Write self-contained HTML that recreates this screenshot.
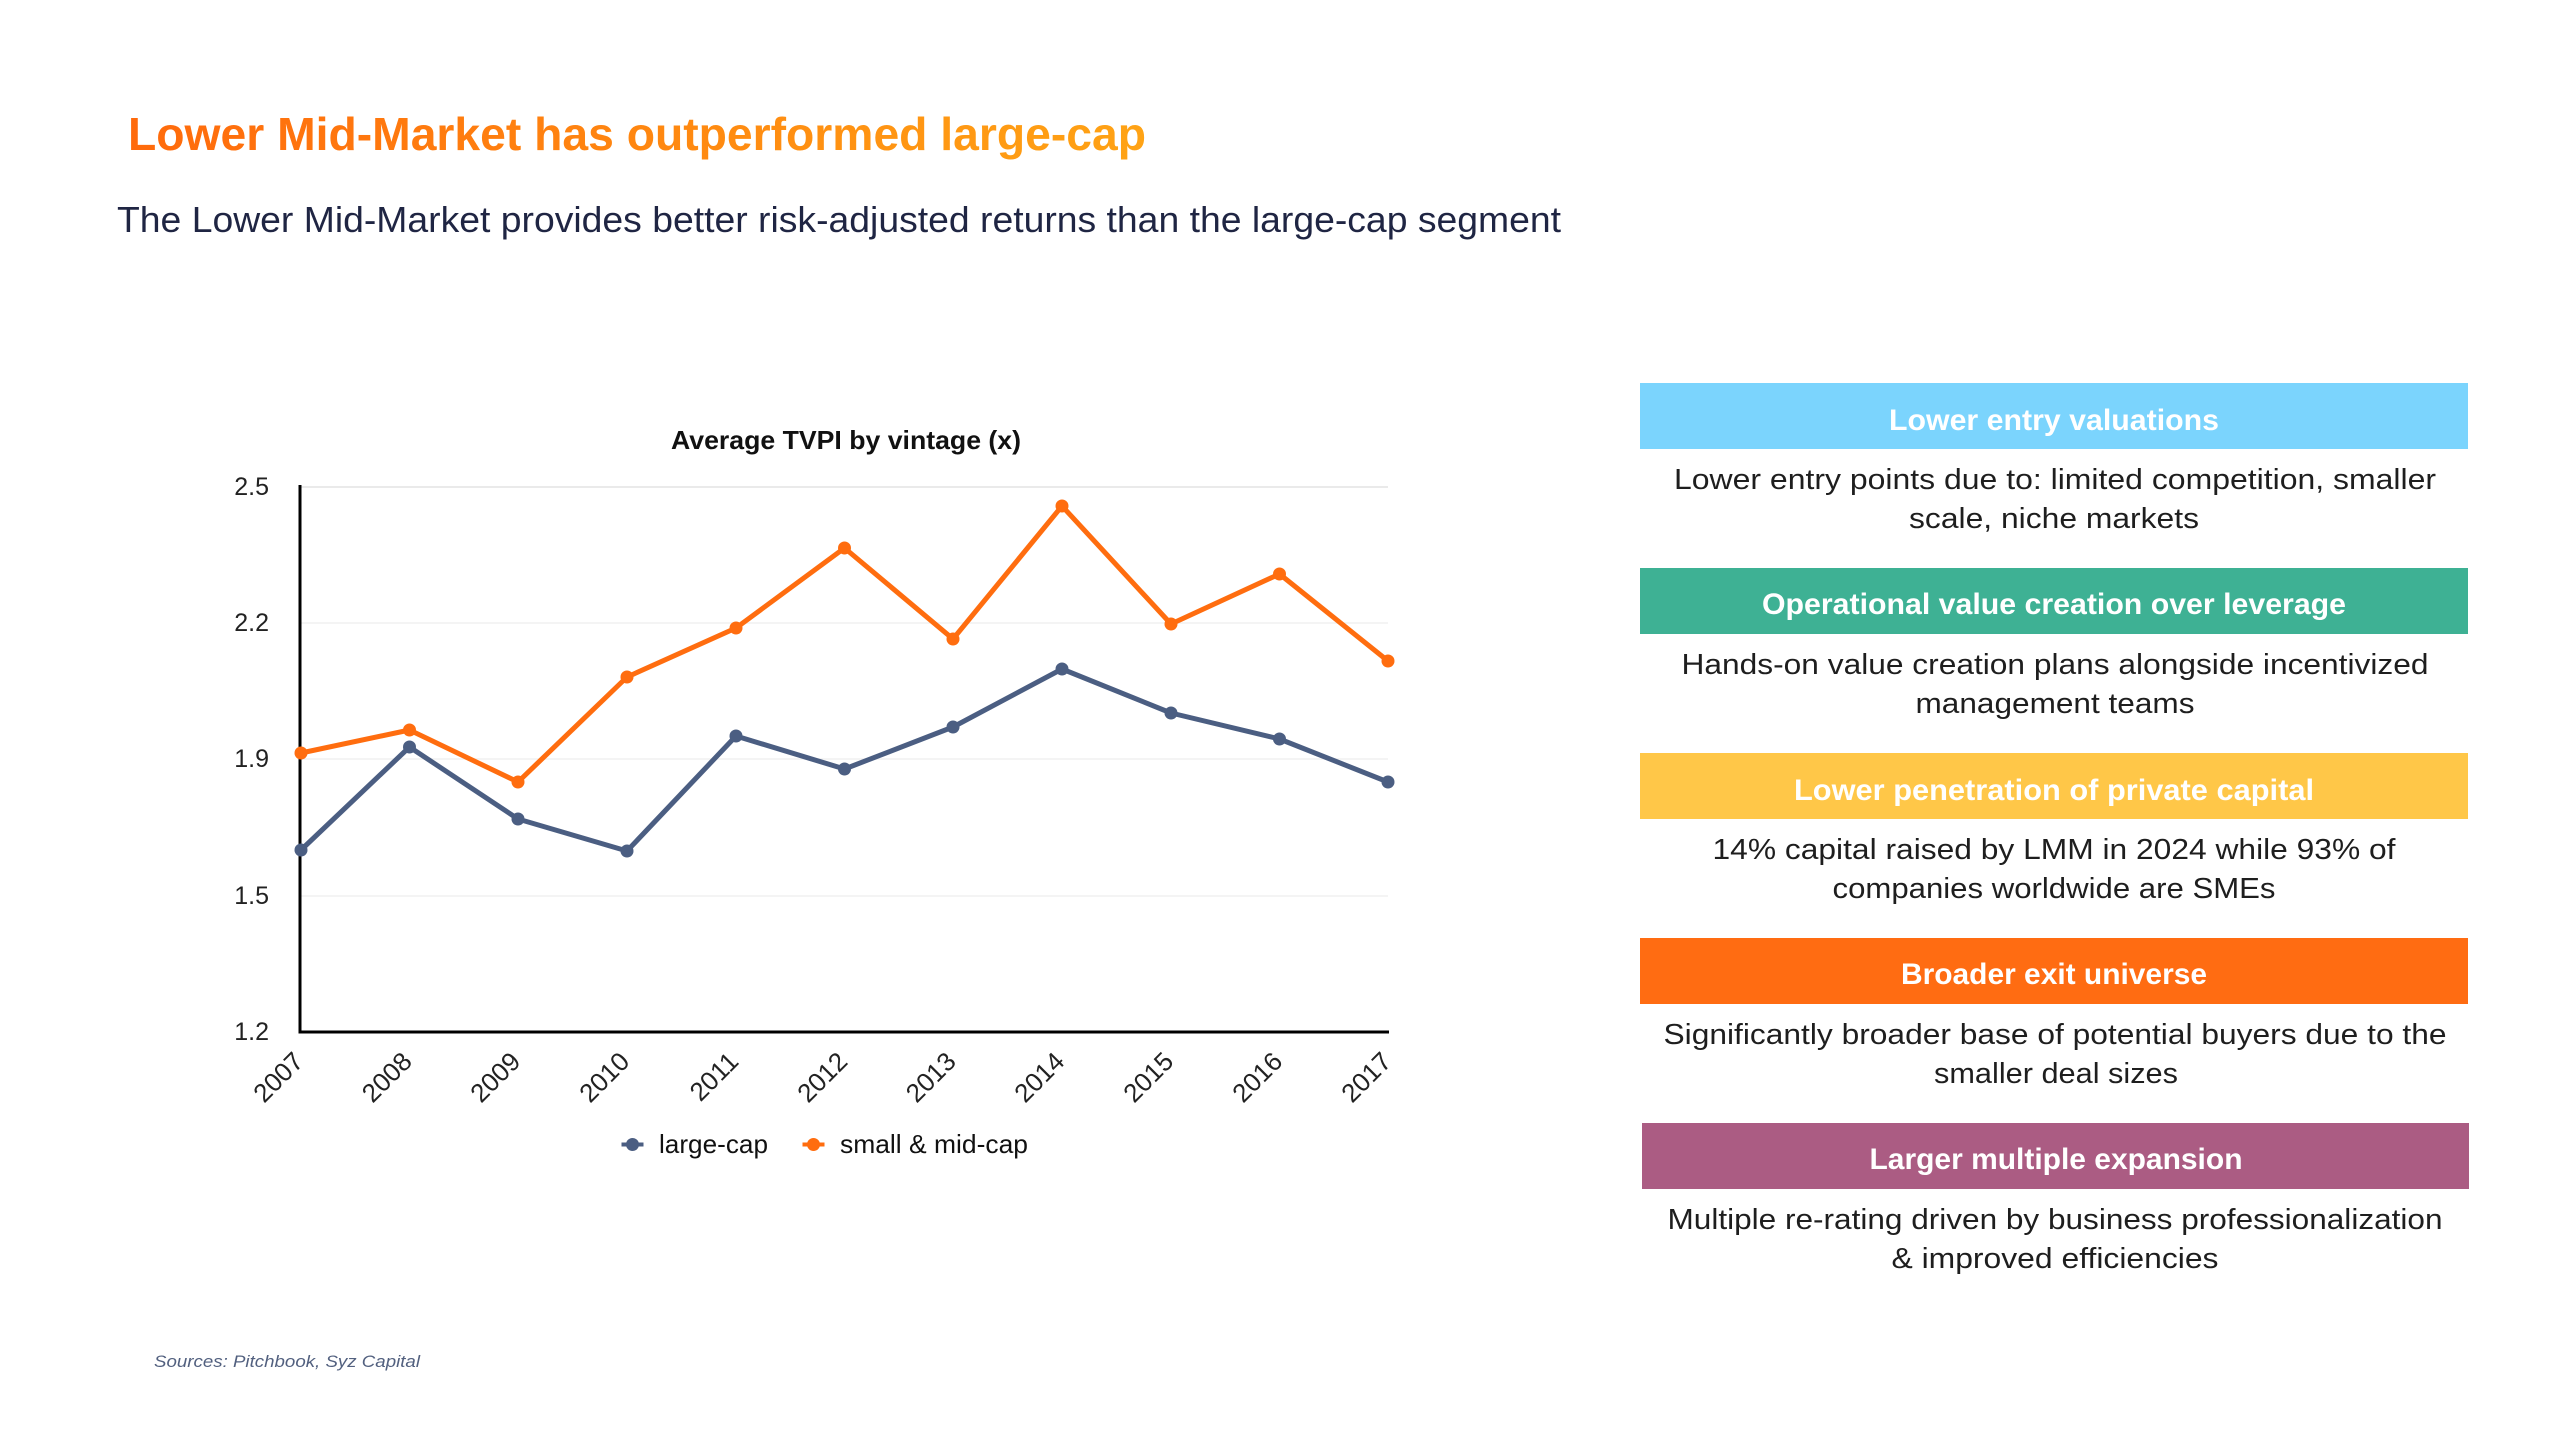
<!DOCTYPE html>
<html>
<head>
<meta charset="utf-8">
<style>
  html, body { margin: 0; padding: 0; background: #ffffff; }
  svg { display: block; }
  text { font-family: "Liberation Sans", Arial, sans-serif; }
</style>
</head>
<body>
<svg width="2560" height="1440" viewBox="0 0 2560 1440" xmlns="http://www.w3.org/2000/svg">
  <defs>
    <linearGradient id="tg" x1="0" y1="0" x2="1" y2="0">
      <stop offset="0" stop-color="#ff6a0c"/>
      <stop offset="1" stop-color="#ffa315"/>
    </linearGradient>
  </defs>
  <rect x="0" y="0" width="2560" height="1440" fill="#ffffff"/>

  <!-- Title -->
  <text x="128" y="150" font-size="46" font-weight="bold" fill="url(#tg)" textLength="1018" lengthAdjust="spacingAndGlyphs">Lower Mid-Market has outperformed large-cap</text>
  <text x="117" y="232" font-size="36" fill="#1f2543" textLength="1444" lengthAdjust="spacingAndGlyphs">The Lower Mid-Market provides better risk-adjusted returns than the large-cap segment</text>

  <!-- Chart title -->
  <text x="846" y="449" font-size="26" font-weight="bold" fill="#111111" text-anchor="middle" textLength="350" lengthAdjust="spacingAndGlyphs">Average TVPI by vintage (x)</text>

  <!-- Gridlines -->
  <g stroke-width="1.5">
    <line x1="300" y1="487" x2="1388" y2="487" stroke="#e4e4e4"/>
    <line x1="300" y1="623" x2="1388" y2="623" stroke="#f0f0f0"/>
    <line x1="300" y1="759" x2="1388" y2="759" stroke="#f0f0f0"/>
    <line x1="300" y1="896" x2="1388" y2="896" stroke="#f0f0f0"/>
  </g>

  <!-- Y labels -->
  <g font-size="25" fill="#222222" text-anchor="end">
    <text x="269" y="495">2.5</text>
    <text x="269" y="631">2.2</text>
    <text x="269" y="767">1.9</text>
    <text x="269" y="904">1.5</text>
    <text x="269" y="1040">1.2</text>
  </g>

  <!-- Axes -->
  <line x1="300" y1="485" x2="300" y2="1033.5" stroke="#000000" stroke-width="3"/>
  <line x1="298.5" y1="1032" x2="1389" y2="1032" stroke="#000000" stroke-width="3"/>

  <!-- X labels -->
  <g font-size="26" fill="#222222" text-anchor="end">
    <text transform="translate(305,1063) rotate(-45)">2007</text>
    <text transform="translate(413.5,1063) rotate(-45)">2008</text>
    <text transform="translate(522,1063) rotate(-45)">2009</text>
    <text transform="translate(631,1063) rotate(-45)">2010</text>
    <text transform="translate(740,1063) rotate(-45)">2011</text>
    <text transform="translate(849,1063) rotate(-45)">2012</text>
    <text transform="translate(957.5,1063) rotate(-45)">2013</text>
    <text transform="translate(1066,1063) rotate(-45)">2014</text>
    <text transform="translate(1175,1063) rotate(-45)">2015</text>
    <text transform="translate(1284,1063) rotate(-45)">2016</text>
    <text transform="translate(1393,1063) rotate(-45)">2017</text>
  </g>

  <!-- Series: large-cap -->
  <polyline fill="none" stroke="#4b5e82" stroke-width="5" stroke-linejoin="round"
    points="301,850 409.5,747 518,819 627,851 736,736 844.5,769 953,727 1062,669 1171,713 1279.5,739 1388,782"/>
  <g fill="#4b5e82">
    <circle cx="301" cy="850" r="6.5"/>
    <circle cx="409.5" cy="747" r="6.5"/>
    <circle cx="518" cy="819" r="6.5"/>
    <circle cx="627" cy="851" r="6.5"/>
    <circle cx="736" cy="736" r="6.5"/>
    <circle cx="844.5" cy="769" r="6.5"/>
    <circle cx="953" cy="727" r="6.5"/>
    <circle cx="1062" cy="669" r="6.5"/>
    <circle cx="1171" cy="713" r="6.5"/>
    <circle cx="1279.5" cy="739" r="6.5"/>
    <circle cx="1388" cy="782" r="6.5"/>
  </g>

  <!-- Series: small & mid-cap -->
  <polyline fill="none" stroke="#ff6d0f" stroke-width="5" stroke-linejoin="round"
    points="301,753 409.5,730 518,782 627,677 736,628 844.5,548 953,639 1062,506 1171,624 1279.5,574 1388,661"/>
  <g fill="#ff6d0f">
    <circle cx="301" cy="753" r="6.5"/>
    <circle cx="409.5" cy="730" r="6.5"/>
    <circle cx="518" cy="782" r="6.5"/>
    <circle cx="627" cy="677" r="6.5"/>
    <circle cx="736" cy="628" r="6.5"/>
    <circle cx="844.5" cy="548" r="6.5"/>
    <circle cx="953" cy="639" r="6.5"/>
    <circle cx="1062" cy="506" r="6.5"/>
    <circle cx="1171" cy="624" r="6.5"/>
    <circle cx="1279.5" cy="574" r="6.5"/>
    <circle cx="1388" cy="661" r="6.5"/>
  </g>

  <!-- Legend -->
  <line x1="621.5" y1="1144.5" x2="643.5" y2="1144.5" stroke="#4b5e82" stroke-width="4"/>
  <circle cx="632.5" cy="1144.5" r="6.5" fill="#4b5e82"/>
  <text x="659" y="1153" font-size="26" fill="#111111" textLength="109" lengthAdjust="spacingAndGlyphs">large-cap</text>
  <line x1="802.5" y1="1144.5" x2="824.5" y2="1144.5" stroke="#ff6d0f" stroke-width="4"/>
  <circle cx="813.5" cy="1144.5" r="6.5" fill="#ff6d0f"/>
  <text x="840" y="1153" font-size="26" fill="#111111" textLength="188" lengthAdjust="spacingAndGlyphs">small &amp; mid-cap</text>

  <!-- Sources -->
  <text x="154" y="1367" font-size="17" font-style="italic" fill="#52607f" textLength="266" lengthAdjust="spacingAndGlyphs">Sources: Pitchbook, Syz Capital</text>

  <!-- Right boxes -->
  <g>
    <rect x="1640" y="383" width="828" height="66" fill="#7bd4fd"/>
    <text x="2054" y="430" font-size="30" font-weight="bold" fill="#ffffff" text-anchor="middle" textLength="330" lengthAdjust="spacingAndGlyphs">Lower entry valuations</text>
    <text x="2055" y="489" font-size="29" fill="#1e1e1e" text-anchor="middle" textLength="762" lengthAdjust="spacingAndGlyphs">Lower entry points due to: limited competition, smaller</text>
    <text x="2054" y="528" font-size="29" fill="#1e1e1e" text-anchor="middle" textLength="290" lengthAdjust="spacingAndGlyphs">scale, niche markets</text>

    <rect x="1640" y="568" width="828" height="66" fill="#3eb194"/>
    <text x="2054" y="614" font-size="30" font-weight="bold" fill="#ffffff" text-anchor="middle" textLength="584" lengthAdjust="spacingAndGlyphs">Operational value creation over leverage</text>
    <text x="2055" y="674" font-size="29" fill="#1e1e1e" text-anchor="middle" textLength="747" lengthAdjust="spacingAndGlyphs">Hands-on value creation plans alongside incentivized</text>
    <text x="2055" y="713" font-size="29" fill="#1e1e1e" text-anchor="middle" textLength="279" lengthAdjust="spacingAndGlyphs">management teams</text>

    <rect x="1640" y="753" width="828" height="66" fill="#ffc748"/>
    <text x="2054" y="800" font-size="30" font-weight="bold" fill="#ffffff" text-anchor="middle" textLength="520" lengthAdjust="spacingAndGlyphs">Lower penetration of private capital</text>
    <text x="2054" y="859" font-size="29" fill="#1e1e1e" text-anchor="middle" textLength="683" lengthAdjust="spacingAndGlyphs">14% capital raised by LMM in 2024 while 93% of</text>
    <text x="2054" y="898" font-size="29" fill="#1e1e1e" text-anchor="middle" textLength="443" lengthAdjust="spacingAndGlyphs">companies worldwide are SMEs</text>

    <rect x="1640" y="938" width="828" height="66" fill="#ff6c12"/>
    <text x="2054" y="984" font-size="30" font-weight="bold" fill="#ffffff" text-anchor="middle" textLength="306" lengthAdjust="spacingAndGlyphs">Broader exit universe</text>
    <text x="2055" y="1044" font-size="29" fill="#1e1e1e" text-anchor="middle" textLength="783" lengthAdjust="spacingAndGlyphs">Significantly broader base of potential buyers due to the</text>
    <text x="2056" y="1083" font-size="29" fill="#1e1e1e" text-anchor="middle" textLength="244" lengthAdjust="spacingAndGlyphs">smaller deal sizes</text>

    <rect x="1642" y="1123" width="827" height="66" fill="#ab5c83"/>
    <text x="2056" y="1169" font-size="30" font-weight="bold" fill="#ffffff" text-anchor="middle" textLength="373" lengthAdjust="spacingAndGlyphs">Larger multiple expansion</text>
    <text x="2055" y="1229" font-size="29" fill="#1e1e1e" text-anchor="middle" textLength="775" lengthAdjust="spacingAndGlyphs">Multiple re-rating driven by business professionalization</text>
    <text x="2055" y="1268" font-size="29" fill="#1e1e1e" text-anchor="middle" textLength="327" lengthAdjust="spacingAndGlyphs">&amp; improved efficiencies</text>
  </g>
</svg>
</body>
</html>
